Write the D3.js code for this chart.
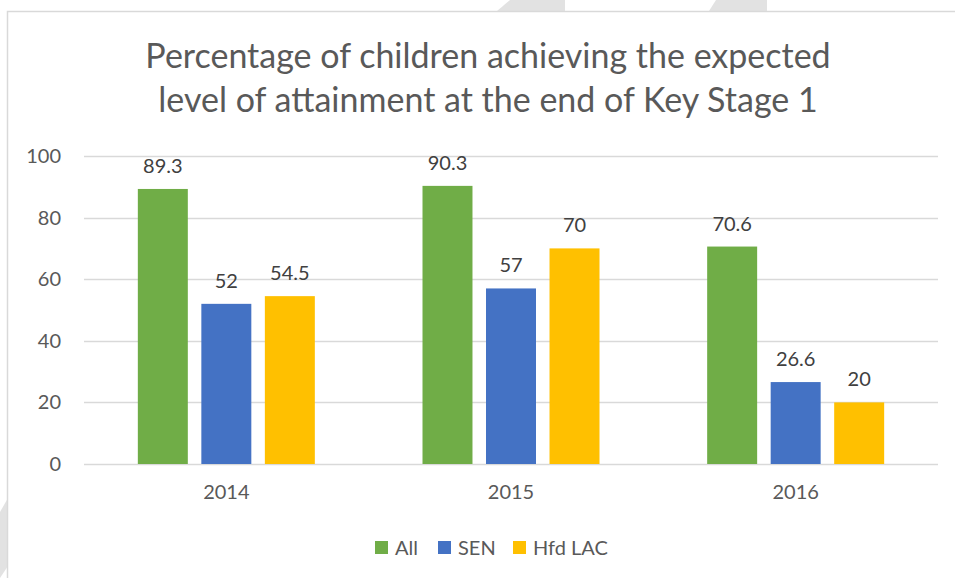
<!DOCTYPE html>
<html>
<head>
<meta charset="utf-8">
<script src="https://cdn.jsdelivr.net/npm/d3@7.9.0/dist/d3.min.js"></script>
<style>
  body { margin: 0; background: #fff; }
  svg { display: block; font-family: Lato, "Open Sans", sans-serif; }
</style>
</head>
<body>
<svg width="955" height="578"></svg>
<script>
const years = ['2014', '2015', '2016'];
const seriesNames = ['All', 'SEN', 'Hfd LAC'];
const allValues = [89.3, 90.3, 70.6];
const senValues = [52, 57, 26.6];
const lacValues = [54.5, 70, 20];
const yTicks = [0, 20, 40, 60, 80, 100];
const titleLines = ['Percentage of children achieving the expected', 'level of attainment at the end of Key Stage 1'];

const colors = ['#70ad47', '#4472c4', '#ffc000'];
const seriesValues = [allValues, senValues, lacValues];

const svg = d3.select('svg');

// faint watermark bands behind the chart box
const bands = [
  [[497, 11], [510, 0], [565, 0], [565, 11]],
  [[709, 11], [716, 0], [767, 0], [767, 11]],
  [[0, 512], [8, 498], [8, 566], [0, 578]]
];
bands.forEach(p => {
  svg.append('path').attr('d', d3.line()(p) + 'Z').attr('fill', '#e2e2e2');
});

svg.append('rect')
  .attr('x', 7.5).attr('y', 11.5)
  .attr('width', 960).attr('height', 580)
  .attr('fill', '#fff').attr('stroke', '#d9d9d9').attr('stroke-width', 1.5);

const plotLeft = 84, plotRight = 938, plotTop = 156, plotBottom = 464;

const x = d3.scaleBand().domain(years).range([plotLeft, plotRight]);
const y = d3.scaleLinear().domain([0, 100]).range([plotBottom, plotTop]);
const xs = d3.scaleBand().domain(seriesNames).range([0, 177]).paddingInner(0.213);

// title
svg.append('text')
  .attr('x', 488).attr('text-anchor', 'middle')
  .attr('font-size', 34).attr('fill', '#595959')
  .selectAll('tspan').data(titleLines).join('tspan')
  .attr('x', 488).attr('y', (d, i) => 68 + i * 44)
  .text(d => d);

// gridlines
svg.append('g').selectAll('line').data(yTicks).join('line')
  .attr('x1', plotLeft).attr('x2', plotRight)
  .attr('y1', d => Math.round(y(d)) + 0.5).attr('y2', d => Math.round(y(d)) + 0.5)
  .attr('stroke', '#d9d9d9').attr('stroke-width', 1.5);

// y axis labels
const yAxis = svg.append('g')
  .attr('transform', `translate(${plotLeft},0)`)
  .call(d3.axisLeft(y).tickValues(yTicks).tickSize(0).tickPadding(23));
yAxis.select('.domain').remove();
yAxis.selectAll('text').attr('font-size', 20).attr('fill', '#595959')
  .attr('font-family', 'Lato, "Open Sans", sans-serif');

// x axis labels
const xAxis = svg.append('g')
  .attr('transform', `translate(0,${plotBottom})`)
  .call(d3.axisBottom(x).tickSize(0).tickPadding(21));
xAxis.select('.domain').remove();
xAxis.selectAll('text').attr('font-size', 20).attr('fill', '#595959')
  .attr('font-family', 'Lato, "Open Sans", sans-serif');

// bars
const groups = svg.append('g').selectAll('g').data(years).join('g')
  .attr('transform', d => `translate(${x(d) + x.bandwidth() / 2 - 88.5},0)`);

groups.each(function (yr, yi) {
  const g = d3.select(this);
  seriesNames.forEach((s, si) => {
    const v = seriesValues[si][yi];
    g.append('rect')
      .attr('x', xs(s)).attr('width', xs.bandwidth())
      .attr('y', y(v)).attr('height', y(0) - y(v))
      .attr('fill', colors[si]);
    g.append('text')
      .attr('x', xs(s) + xs.bandwidth() / 2)
      .attr('y', y(v) - 16)
      .attr('text-anchor', 'middle')
      .attr('font-size', 20).attr('fill', '#404040')
      .text(v);
  });
});

// legend
const legendItems = [
  { name: 'All', x: 375 },
  { name: 'SEN', x: 438 },
  { name: 'Hfd LAC', x: 513 }
];
const legend = svg.append('g').selectAll('g').data(legendItems).join('g')
  .attr('transform', d => `translate(${d.x},541)`);
legend.append('rect').attr('width', 13).attr('height', 13)
  .attr('fill', (d, i) => colors[i]);
legend.append('text').attr('x', 20).attr('y', 14)
  .attr('font-size', 20).attr('fill', '#595959')
  .text(d => d.name);
</script>
</body>
</html>
